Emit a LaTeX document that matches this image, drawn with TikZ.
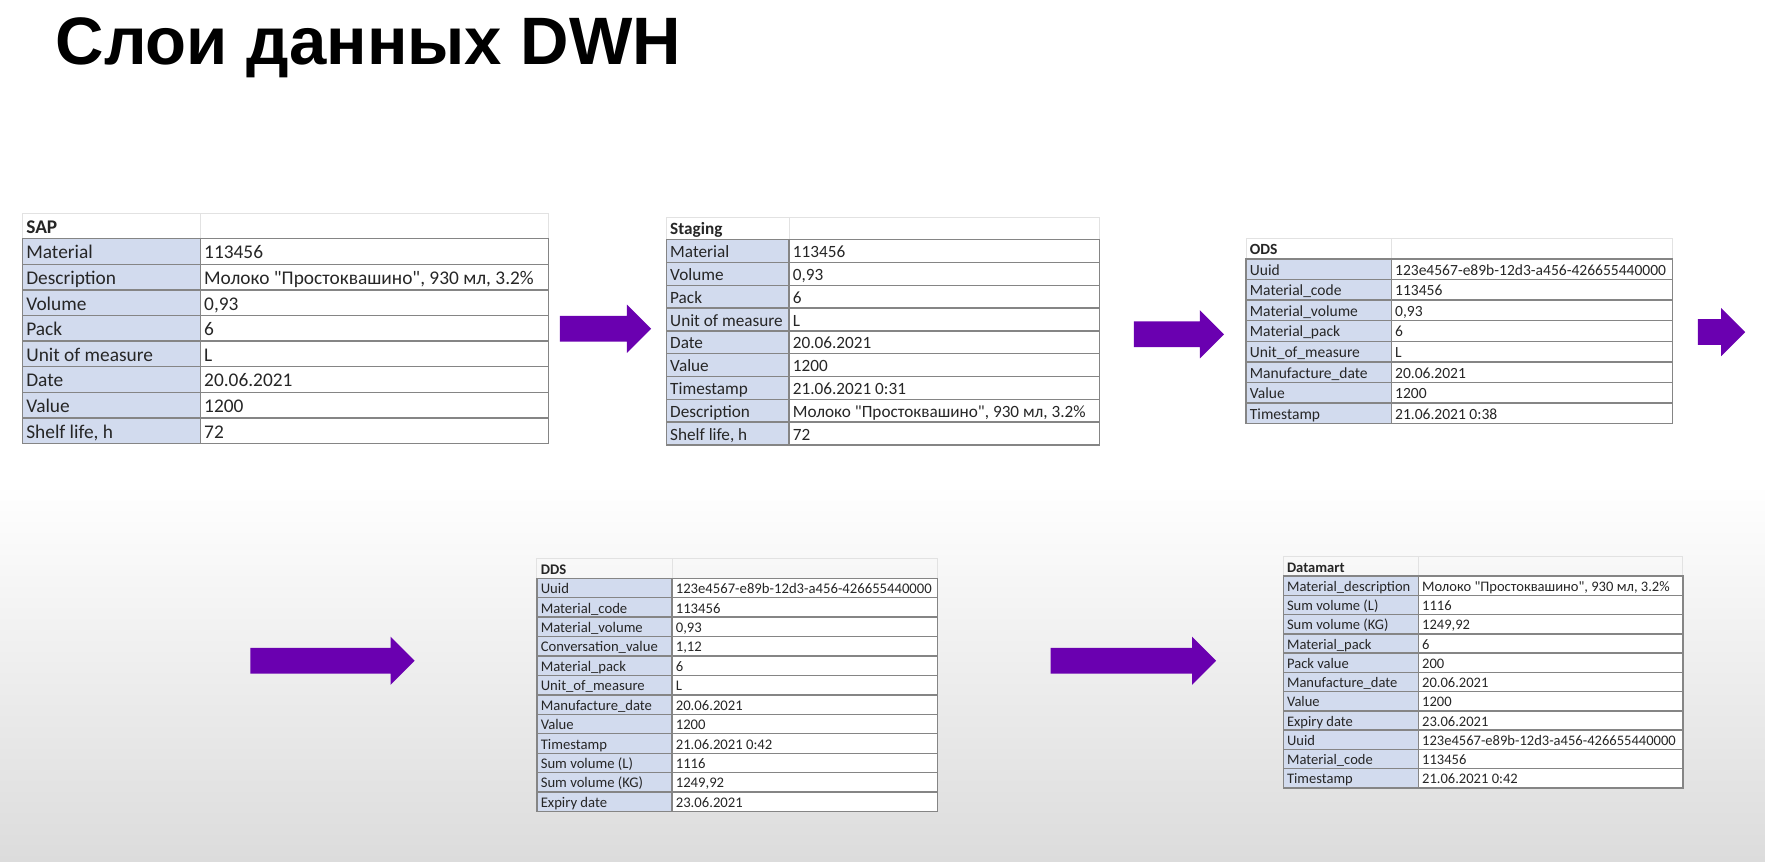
\documentclass[tikz,border=0pt]{standalone}
\usepackage{fontspec}
\setmainfont[Ligatures=TeXOff]{Carlito}
\newfontfamily\titlefont{Liberation Sans}
\definecolor{dwhPurple}{HTML}{6A00B0}
\definecolor{dwhKey}{HTML}{D2DBEE}
\definecolor{dwhLine}{HTML}{858585}
\definecolor{dwhGrid}{HTML}{E2E2E2}
\definecolor{dwhText}{HTML}{262626}
\definecolor{dwhBg}{HTML}{DCDCDC}
\usepackage{tikz}
\usetikzlibrary{shapes.arrows}
\tikzset{
  keycell/.style={fill=dwhKey, draw=dwhLine, line width=0.6pt},
  valcell/.style={fill=white, draw=dwhLine, line width=0.6pt},
  gridcell/.style={draw=dwhGrid, line width=0.4pt},
  celltext/.style={anchor=base west, inner sep=0pt, text=dwhText},
  layerarrow/.style={single arrow, fill=dwhPurple, draw=none, inner xsep=0pt, inner ysep=5.5pt,
    single arrow head extend=5pt, anchor=west}
}

\begin{document}
\begin{tikzpicture}[x=0.5pt, y=-0.5pt]
  % slide background, grey towards the bottom
  \fill[white] (0,0) rectangle (1568,765);
  \shade[top color=white, bottom color=dwhBg] (0,430) rectangle (1568,765);
  \useasboundingbox (0,0) rectangle (1568,765);
  \node[anchor=base west, inner sep=0pt, text=black,
        font=\titlefont\bfseries\fontsize{29.8}{34}\selectfont] (title) at (49,57) {Слои данных DWH};

  % SAP — raw extract
  \begin{scope}[font=\fontsize{8.6}{10}\selectfont]
    \draw[gridcell] (20,189.25) rectangle (178,212) (178,189.25) rectangle (487,212);
    \node[celltext, font=\bfseries\fontsize{8.6}{10}\selectfont] (sap-head) at (23,207.2) {SAP};
    \foreach \k/\v [count=\i] in {Material/113456, Description/{Молоко "Простоквашино", 930 мл, 3.2\%},
        Volume/{0,93}, Pack/6, Unit of measure/L, Date/20.06.2021, Value/1200, {Shelf life, h}/72} {
      \pgfmathsetmacro\rt{212+(\i-1)*22.75}
      \pgfmathsetmacro\rb{\rt+22.75}
      \draw[keycell] (20,\rt) rectangle (178,\rb);
      \draw[valcell] (178,\rt) rectangle (487,\rb);
      \node[celltext] (sap-k\i) at (23,\rb-4.8) {\k};
      \node[celltext] (sap-v\i) at (181,\rb-4.8) {\v};
    }
  \end{scope}

  % Staging — same record plus load time
  \begin{scope}[font=\fontsize{7.64}{9}\selectfont]
    \draw[gridcell] (592,192.75) rectangle (701,213) (701,192.75) rectangle (977,213);
    \node[celltext, font=\bfseries\fontsize{7.64}{9}\selectfont] (stg-head) at (595,208.75) {Staging};
    \foreach \k/\v [count=\i] in {Material/113456, Volume/{0,93}, Pack/6, Unit of measure/L, Date/20.06.2021,
        Value/1200, Timestamp/21.06.2021 0:31, Description/{Молоко "Простоквашино", 930 мл, 3.2\%}, {Shelf life, h}/72} {
      \pgfmathsetmacro\rt{213+(\i-1)*20.25}
      \pgfmathsetmacro\rb{\rt+20.25}
      \draw[keycell] (592,\rt) rectangle (701,\rb);
      \draw[valcell] (701,\rt) rectangle (977,\rb);
      \node[celltext] (stg-k\i) at (595,\rb-4.25) {\k};
      \node[celltext] (stg-v\i) at (704,\rb-4.25) {\v};
    }
  \end{scope}

  % ODS — renamed fields with uuid
  \begin{scope}[font=\fontsize{6.9}{8}\selectfont]
    \draw[gridcell] (1107,211.7) rectangle (1236,230) (1236,211.7) rectangle (1486,230);
    \node[celltext, font=\bfseries\fontsize{6.9}{8}\selectfont] (ods-head) at (1110,226.15) {ODS};
    \foreach \k/\v [count=\i] in {Uuid/123e4567-e89b-12d3-a456-426655440000, Material\_code/113456,
        Material\_volume/{0,93}, Material\_pack/6, Unit\_of\_measure/L, Manufacture\_date/20.06.2021,
        Value/1200, Timestamp/21.06.2021 0:38} {
      \pgfmathsetmacro\rt{230+(\i-1)*18.3}
      \pgfmathsetmacro\rb{\rt+18.3}
      \draw[keycell] (1107,\rt) rectangle (1236,\rb);
      \draw[valcell] (1236,\rt) rectangle (1486,\rb);
      \node[celltext] (ods-k\i) at (1110,\rb-3.85) {\k};
      \node[celltext] (ods-v\i) at (1239,\rb-3.85) {\v};
    }
  \end{scope}

  % DDS — derived volumes and expiry
  \begin{scope}[font=\fontsize{6.52}{8}\selectfont]
    \draw[gridcell] (477,496.4) rectangle (597,513.7) (597,496.4) rectangle (833,513.7);
    \node[celltext, font=\bfseries\fontsize{6.52}{8}\selectfont] (dds-head) at (480,510.05) {DDS};
    \foreach \k/\v [count=\i] in {Uuid/123e4567-e89b-12d3-a456-426655440000, Material\_code/113456,
        Material\_volume/{0,93}, Conversation\_value/{1,12}, Material\_pack/6, Unit\_of\_measure/L,
        Manufacture\_date/20.06.2021, Value/1200, Timestamp/21.06.2021 0:42, Sum volume (L)/1116,
        Sum volume (KG)/{1249,92}, Expiry date/23.06.2021} {
      \pgfmathsetmacro\rt{513.7+(\i-1)*17.27}
      \pgfmathsetmacro\rb{\rt+17.27}
      \draw[keycell] (477,\rt) rectangle (597,\rb);
      \draw[valcell] (597,\rt) rectangle (833,\rb);
      \node[celltext] (dds-k\i) at (480,\rb-3.65) {\k};
      \node[celltext] (dds-v\i) at (600,\rb-3.65) {\v};
    }
  \end{scope}

  % Datamart — ready for reports
  \begin{scope}[font=\fontsize{6.46}{8}\selectfont]
    \draw[gridcell] (1140,494.7) rectangle (1260,511.8) (1260,494.7) rectangle (1495,511.8);
    \node[celltext, font=\bfseries\fontsize{6.46}{8}\selectfont] (mart-head) at (1143,508.2) {Datamart};
    \foreach \k/\v [count=\i] in {Material\_description/{Молоко "Простоквашино", 930 мл, 3.2\%},
        Sum volume (L)/1116, Sum volume (KG)/{1249,92}, Material\_pack/6, Pack value/200,
        Manufacture\_date/20.06.2021, Value/1200, Expiry date/23.06.2021,
        Uuid/123e4567-e89b-12d3-a456-426655440000, Material\_code/113456, Timestamp/21.06.2021 0:42} {
      \pgfmathsetmacro\rt{511.8+(\i-1)*17.1}
      \pgfmathsetmacro\rb{\rt+17.1}
      \draw[keycell] (1140,\rt) rectangle (1260,\rb);
      \draw[valcell] (1260,\rt) rectangle (1495,\rb);
      \node[celltext] (mart-k\i) at (1143,\rb-3.6) {\k};
      \node[celltext] (mart-v\i) at (1263,\rb-3.6) {\v};
    }
  \end{scope}

  % flow between the layers
  \node[layerarrow, minimum height=40.5pt] (arr1) at (497,292) {};
  \node[layerarrow, minimum height=40pt] (arr2) at (1007,297) {};
  \node[layerarrow, minimum height=21pt] (arr3) at (1508,295) {};
  \node[layerarrow, minimum height=73pt] (arr4) at (222,587) {};
  \node[layerarrow, minimum height=73.5pt] (arr5) at (933,587) {};
\end{tikzpicture}
\end{document}
